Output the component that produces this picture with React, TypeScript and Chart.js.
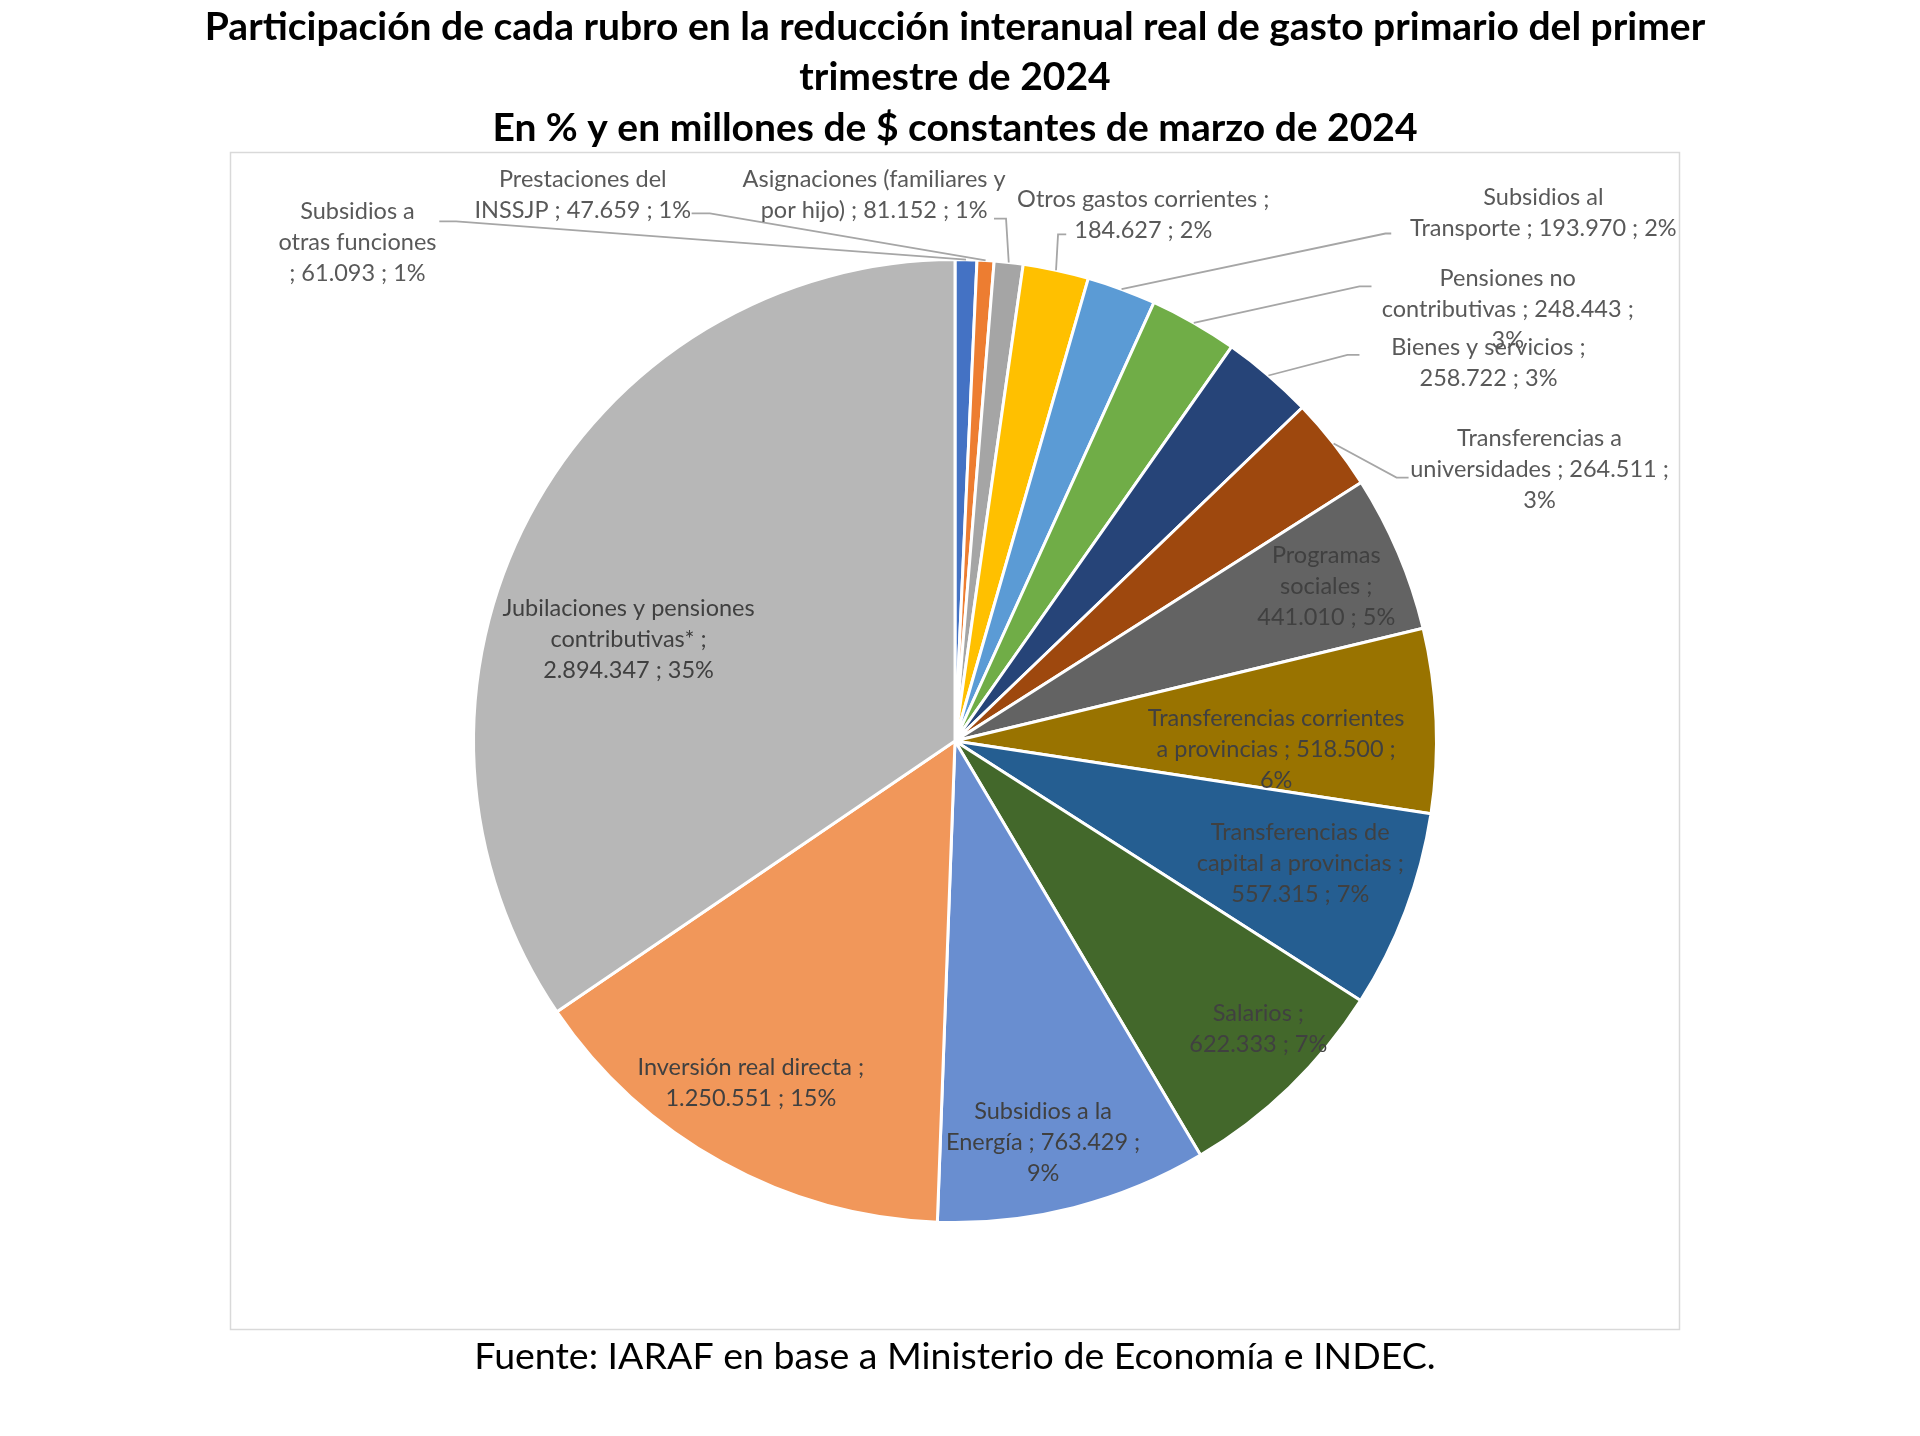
import React, { useEffect, useRef } from "react";
import { Chart, registerables } from "chart.js";

Chart.register(...registerables);

// ---- Data ----
const categories: string[] = [
  "Subsidios a otras funciones",
  "Prestaciones del INSSJP",
  "Asignaciones (familiares y por hijo)",
  "Otros gastos corrientes",
  "Subsidios al Transporte",
  "Pensiones no contributivas",
  "Bienes y servicios",
  "Transferencias a universidades",
  "Programas sociales",
  "Transferencias corrientes a provincias",
  "Transferencias de capital a provincias",
  "Salarios",
  "Subsidios a la Energía",
  "Inversión real directa",
  "Jubilaciones y pensiones contributivas*",
];

const values: number[] = [
  61093, 47659, 81152, 184627, 193970, 248443, 258722, 264511, 441010, 518500,
  557315, 622333, 763429, 1250551, 2894347,
];

const titleLines: string[] = [
  "Participación de cada rubro en la reducción interanual real de gasto primario del primer",
  "trimestre de 2024",
  "En % y en millones de $ constantes de marzo de 2024",
];

const sourceNote = "Fuente: IARAF en base a Ministerio de Economía e INDEC.";

// ---- Styles / layout (not data) ----
const colors: string[] = [
  "#4472C4", "#ED7D31", "#A5A5A5", "#FFC000", "#5B9BD5", "#70AD47", "#264478",
  "#9E480E", "#636363", "#997300", "#255E91", "#43682B", "#698ED0", "#F1975A",
  "#B7B7B7",
];

// words per wrapped line of each label
const wrapWords: number[][] = [
  [2, 2, 4], [2, 5], [3, 6], [4, 3], [2, 5], [2, 4, 1], [4, 3], [2, 4, 1],
  [1, 2, 3], [2, 5, 1], [2, 4, 3], [2, 3], [3, 4, 1], [4, 3], [3, 2, 3],
];

// label block centre relative to pie centre (units of radius)
const labelPos: number[][] = [
  [-1.241, -1.035], [-0.773, -1.134], [-0.168, -1.134], [0.391, -1.092],
  [1.222, -1.096], [1.148, -0.896], [1.108, -0.786], [1.214, -0.565],
  [0.771, -0.320], [0.667, 0.017], [0.717, 0.254], [0.630, 0.597],
  [0.183, 0.834], [-0.424, 0.711], [-0.678, -0.212],
];

// leader lines: [elbowX, elbowY, endX, endY] relative to centre (units of radius); null = inside label
const leaders: (number[] | null)[] = [
  [-1.036, -1.079, -1.071, -1.079],
  [-0.509, -1.096, -0.547, -1.096],
  [0.106, -1.085, 0.081, -1.085],
  [0.214, -1.052, 0.231, -1.052],
  [0.894, -1.054, 0.906, -1.054],
  [0.840, -0.944, 0.865, -0.944],
  [0.815, -0.802, 0.840, -0.802],
  [0.917, -0.547, 0.942, -0.547],
  null, null, null, null, null, null, null,
];

const LABEL_FONT = "23.5px Lato";
const LINE_H = 31;

const fmt = (v: number) => v.toString().replace(/\B(?=(\d{3})+(?!\d))/g, ".");

function labelLines(i: number, total: number): string[] {
  const pct = Math.round((values[i] / total) * 100);
  const words = `${categories[i]} ; ${fmt(values[i])} ; ${pct}%`.split(" ");
  const out: string[] = [];
  let k = 0;
  for (const n of wrapWords[i]) {
    out.push(words.slice(k, k + n).join(" "));
    k += n;
  }
  return out;
}

const decorPlugin = {
  id: "decor",
  beforeDraw(chart: any) {
    const ctx = chart.ctx;
    ctx.save();
    ctx.fillStyle = "#ffffff";
    ctx.fillRect(0, 0, chart.width, chart.height);
    ctx.strokeStyle = "#d9d9d9";
    ctx.lineWidth = 1.5;
    ctx.strokeRect(230.5, 152.5, 1449, 1177);
    ctx.fillStyle = "#000000";
    ctx.textAlign = "center";
    ctx.textBaseline = "middle";
    ctx.font = "bold 39px Lato";
    const ty = [27, 77, 128];
    titleLines.forEach((t, i) => ctx.fillText(t, 955, ty[i]));
    ctx.font = "37.5px Lato";
    ctx.fillText(sourceNote, 955, 1357);
    ctx.restore();
  },
  afterDraw(chart: any) {
    const ctx = chart.ctx;
    const meta = chart.getDatasetMeta(0);
    const total = values.reduce((a, b) => a + b, 0);
    const arc0 = meta.data[0];
    const cx = arc0.x, cy = arc0.y, R = arc0.outerRadius;
    ctx.save();
    ctx.font = LABEL_FONT;
    ctx.textAlign = "center";
    ctx.textBaseline = "middle";
    meta.data.forEach((arc: any, i: number) => {
      const lines = labelLines(i, total);
      const bx = cx + labelPos[i][0] * R;
      const by = cy + labelPos[i][1] * R;
      const ld = leaders[i];
      if (ld) {
        const mid = (arc.startAngle + arc.endAngle) / 2;
        const px = cx + Math.cos(mid) * R;
        const py = cy + Math.sin(mid) * R;
        ctx.strokeStyle = "#a6a6a6";
        ctx.lineWidth = 1.8;
        ctx.beginPath();
        ctx.moveTo(px, py);
        ctx.lineTo(cx + ld[0] * R, cy + ld[1] * R);
        ctx.lineTo(cx + ld[2] * R, cy + ld[3] * R);
        ctx.stroke();
        ctx.fillStyle = "#595959";
      } else {
        ctx.fillStyle = "#404040";
      }
      const y0 = by - ((lines.length - 1) * LINE_H) / 2;
      lines.forEach((l, j) => ctx.fillText(l, bx, y0 + j * LINE_H));
    });
    ctx.restore();
  },
};

export default function App() {
  const ref = useRef<HTMLCanvasElement | null>(null);
  useEffect(() => {
    if (!ref.current) return;
    const chart = new Chart(ref.current, {
      type: "pie",
      data: {
        labels: categories,
        datasets: [
          {
            data: values,
            backgroundColor: colors,
            borderColor: "#ffffff",
            borderWidth: 3,
          },
        ],
      },
      options: {
        responsive: false,
        animation: false,
        devicePixelRatio: 1,
        layout: { padding: { left: 472, right: 482, top: 258, bottom: 212 } },
        plugins: {
          legend: { display: false },
          tooltip: { enabled: false },
          title: { display: false },
        },
      },
      plugins: [decorPlugin],
    });
    return () => chart.destroy();
  }, []);
  return (
    <div style={{ position: "absolute", left: 0, top: 0, width: 1920, height: 1436 }}>
      <canvas ref={ref} width={1920} height={1436} style={{ width: 1920, height: 1436, display: "block" }} />
    </div>
  );
}
